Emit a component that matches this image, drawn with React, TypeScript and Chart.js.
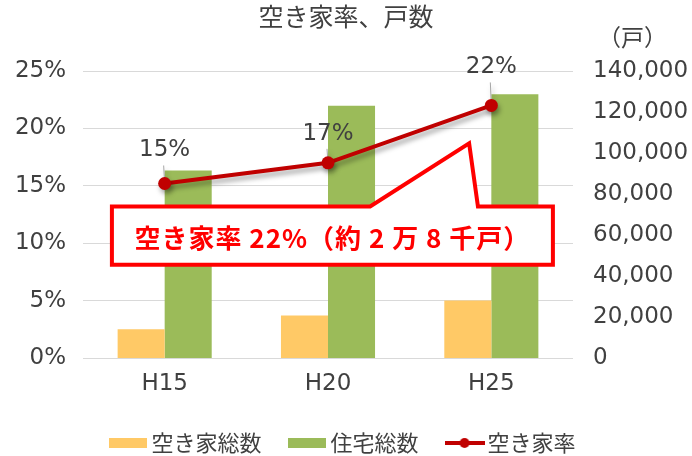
import React, { useEffect, useRef } from "react";
import { Chart, registerables } from "chart.js";

Chart.register(...registerables);

// ---- data ----
const CATEGORIES = ["H15", "H20", "H25"];
const VACANT_HOUSES = [14000, 20700, 28000]; // 空き家総数 (戸)
const TOTAL_HOUSES = [91500, 123000, 128700]; // 住宅総数 (戸)
const VACANCY_RATE = [15.2, 17.0, 22.0]; // 空き家率 (%)
const RATE_AXIS = { min: 0, max: 25, step: 5 };
const COUNT_AXIS = { min: 0, max: 140000, step: 20000 };
const TITLE = "空き家率、戸数";
const UNIT_LABEL = "（戸）";
const CALLOUT_TEXT = "空き家率 22%（約 2 万 8 千戸）";
const SERIES_NAMES = ["空き家総数", "住宅総数", "空き家率"];

const NUM_FONT = '"DejaVu Sans", "Noto Sans CJK JP", sans-serif';
const JP_FONT = '"Noto Sans CJK JP", sans-serif';
const TEXT_COLOR = "#404040";
const ORANGE = "#FFC966";
const GREEN = "#9BBB59";
const RED_LINE = "#C00000";

function makeRectIcon(color: string) {
  const c = document.createElement("canvas");
  c.width = 38;
  c.height = 10;
  const g = c.getContext("2d")!;
  g.fillStyle = color;
  g.fillRect(0, 0, 38, 10);
  return c;
}
function makeLineIcon(color: string) {
  const c = document.createElement("canvas");
  c.width = 40;
  c.height = 12;
  const g = c.getContext("2d")!;
  g.strokeStyle = color;
  g.lineWidth = 4;
  g.beginPath();
  g.moveTo(0, 6);
  g.lineTo(40, 6);
  g.stroke();
  g.fillStyle = color;
  g.beginPath();
  g.arc(20, 6, 5, 0, Math.PI * 2);
  g.fill();
  return c;
}

const lineShadowPlugin = {
  id: "lineShadow",
  beforeDatasetDraw(chart: any, args: any) {
    if (args.index !== 2) return;
    const ctx = chart.ctx;
    ctx.save();
    ctx.shadowColor = "rgba(0,0,0,0.35)";
    ctx.shadowBlur = 5;
    ctx.shadowOffsetX = 2;
    ctx.shadowOffsetY = 4;
  },
  afterDatasetDraw(chart: any, args: any) {
    if (args.index !== 2) return;
    chart.ctx.restore();
  },
};

const LABEL_RISE = [33, 29, 38];

const rateLabelPlugin = {
  id: "rateLabels",
  beforeDatasetDraw(chart: any, args: any) {
    if (args.index !== 2) return;
    const ctx = chart.ctx;
    const meta = chart.getDatasetMeta(2);
    ctx.save();
    ctx.strokeStyle = "#A6A6A6";
    ctx.lineWidth = 1;
    meta.data.forEach((pt: any, i: number) => {
      const ty = pt.y - LABEL_RISE[i];
      ctx.beginPath();
      ctx.moveTo(pt.x - 1, ty + 15);
      ctx.lineTo(pt.x, pt.y);
      ctx.stroke();
    });
    ctx.restore();
  },
  afterDatasetsDraw(chart: any) {
    const ctx = chart.ctx;
    const meta = chart.getDatasetMeta(2);
    ctx.save();
    ctx.font = `23px ${NUM_FONT}`;
    ctx.fillStyle = TEXT_COLOR;
    ctx.textAlign = "center";
    ctx.textBaseline = "middle";
    meta.data.forEach((pt: any, i: number) => {
      const ty = pt.y - LABEL_RISE[i];
      ctx.fillText(Math.round(VACANCY_RATE[i]) + "%", pt.x, ty);
    });
    ctx.restore();
  },
};

const unitLabelPlugin = {
  id: "unitLabel",
  afterDraw(chart: any) {
    const ctx = chart.ctx;
    const s = chart.scales.y1;
    ctx.save();
    ctx.font = `23px ${JP_FONT}`;
    ctx.fillStyle = TEXT_COLOR;
    ctx.textAlign = "center";
    ctx.textBaseline = "middle";
    ctx.fillText(UNIT_LABEL, s.left + s.width / 2, chart.chartArea.top - 34);
    ctx.restore();
  },
};

const calloutPlugin = {
  id: "callout",
  afterDraw(chart: any) {
    const ctx = chart.ctx;
    const a = chart.chartArea;
    const W = a.right - a.left;
    const H = a.bottom - a.top;
    const fx = (f: number) => a.left + W * f;
    const fy = (f: number) => a.top + H * f;
    const L = fx(0.059), R = fx(0.959), T = fy(0.472), B = fy(0.675);
    ctx.save();
    ctx.beginPath();
    ctx.moveTo(L, T);
    ctx.lineTo(fx(0.586), T);
    ctx.lineTo(fx(0.788), fy(0.252));
    ctx.lineTo(fx(0.806), T);
    ctx.lineTo(R, T);
    ctx.lineTo(R, B);
    ctx.lineTo(L, B);
    ctx.closePath();
    ctx.fillStyle = "#FFFFFF";
    ctx.fill();
    ctx.lineWidth = 4;
    ctx.lineJoin = "miter";
    ctx.strokeStyle = "#FF0000";
    ctx.stroke();
    ctx.font = `bold 26px ${JP_FONT}`;
    ctx.fillStyle = "#FF0000";
    ctx.textAlign = "center";
    ctx.textBaseline = "middle";
    try {
      (ctx as any).letterSpacing = "1px";
    } catch (e) {}
    ctx.fillText(CALLOUT_TEXT, (L + R) / 2, (T + B) / 2 + 3);
    ctx.restore();
  },
};

export default function App() {
  const ref = useRef<HTMLCanvasElement>(null);
  useEffect(() => {
    document.body.style.margin = "0";
    const icons = [makeRectIcon(ORANGE), makeRectIcon(GREEN), makeLineIcon(RED_LINE)];
    const chart = new Chart(ref.current!, {
      type: "bar",
      data: {
        labels: CATEGORIES,
        datasets: [
          {
            type: "bar",
            label: SERIES_NAMES[0],
            data: VACANT_HOUSES,
            backgroundColor: ORANGE,
            yAxisID: "y1",
            order: 1,
            categoryPercentage: 0.576,
            barPercentage: 1,
          },
          {
            type: "bar",
            label: SERIES_NAMES[1],
            data: TOTAL_HOUSES,
            backgroundColor: GREEN,
            yAxisID: "y1",
            order: 1,
            categoryPercentage: 0.576,
            barPercentage: 1,
          },
          {
            type: "line",
            label: SERIES_NAMES[2],
            data: VACANCY_RATE,
            borderColor: RED_LINE,
            backgroundColor: RED_LINE,
            borderWidth: 4,
            pointRadius: 6.5,
            pointBorderWidth: 0,
            pointBackgroundColor: RED_LINE,
            yAxisID: "y",
            order: 0,
            tension: 0,
          } as any,
        ],
      },
      options: {
        responsive: false,
        animation: false,
        layout: { padding: { left: 0, right: 0, top: 0, bottom: -8 } },
        plugins: {
          tooltip: { enabled: false },
          title: {
            display: true,
            text: TITLE,
            color: TEXT_COLOR,
            font: { family: JP_FONT, size: 25, weight: "normal" },
            padding: { top: 1, bottom: 40 },
          },
          legend: {
            position: "bottom",
            labels: {
              usePointStyle: true,
              pointStyleWidth: 24,
              padding: 34,
              color: TEXT_COLOR,
              font: { family: JP_FONT, size: 22 },
              sort: (a: any, b: any) => a.datasetIndex - b.datasetIndex,
              generateLabels: (c: any) =>
                Chart.defaults.plugins.legend.labels
                  .generateLabels(c)
                  .map((it: any) => ({ ...it, pointStyle: icons[it.datasetIndex] })),
            },
          },
        },
        scales: {
          x: {
            grid: { display: false, drawTicks: false },
            border: { display: false },
            ticks: {
              color: TEXT_COLOR,
              font: { family: NUM_FONT, size: 23 },
              padding: 12,
            },
            afterFit: (s: any) => {
              s.height = 40;
            },
          },
          y: {
            position: "left",
            min: RATE_AXIS.min,
            max: RATE_AXIS.max,
            grid: { color: "#D9D9D9", lineWidth: 1, drawTicks: false },
            border: { display: false },
            ticks: {
              stepSize: RATE_AXIS.step,
              color: TEXT_COLOR,
              font: { family: NUM_FONT, size: 23 },
              padding: 17,
              callback: (v: any) => `${v}%`,
            },
            afterFit: (s: any) => {
              s.width = 83;
            },
          },
          y1: {
            position: "right",
            min: COUNT_AXIS.min,
            max: COUNT_AXIS.max,
            grid: { display: false, drawTicks: false },
            border: { display: false },
            ticks: {
              stepSize: COUNT_AXIS.step,
              color: TEXT_COLOR,
              font: { family: NUM_FONT, size: 23 },
              padding: 20,
              callback: (v: any) => Number(v).toLocaleString("en-US"),
            },
            afterFit: (s: any) => {
              s.width = 119;
            },
          },
        },
      },
      plugins: [lineShadowPlugin, rateLabelPlugin, unitLabelPlugin, calloutPlugin],
    });
    return () => chart.destroy();
  }, []);
  return <canvas ref={ref} width={692} height={456} />;
}
